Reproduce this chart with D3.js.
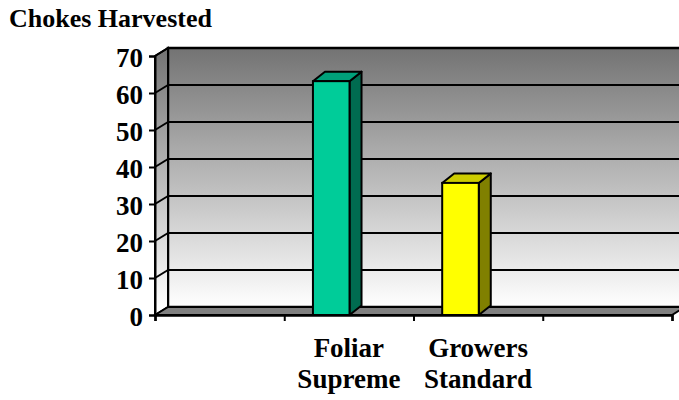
<!DOCTYPE html>
<html>
<head>
<meta charset="utf-8">
<script src="https://cdn.jsdelivr.net/npm/d3@7"></script>
<style>
  body { margin: 0; background: #fff; }
  svg { display: block; font-family: "Liberation Serif", "Times New Roman", serif; font-weight: bold; }
</style>
</head>
<body>
<div id="grafico"></div>
<script>
// Datos del grafico
var categorias = ["Foliar Supreme", "Growers Standard"];
var valores = [63.2, 35.7];
var ticksY = [0, 10, 20, 30, 40, 50, 60, 70];
var titulo = "Chokes Harvested";

var width = 679;
var height = 400;

// Profundidad 3D de paredes y barras
var pdx = 13, pdy = 8;
var bdx = 12, bdy = 9.5;

var svg = d3.select("#grafico")
    .append("svg")
    .attr("width", width)
    .attr("height", height);

// Escalas: eje frontal
var y = d3.scaleLinear().domain([0, 70]).range([315, 56]);
// cuatro huecos, las barras van en el segundo y tercero
var slots = ["", categorias[0], categorias[1], " "];
var x = d3.scaleBand().domain(slots).range([155, 672]).padding(0);

var x0 = x.range()[0], x1 = x.range()[1];
var y0 = y(0), yTop = y(70);

// Degradado de las paredes
var defs = svg.append("defs");
var grad = defs.append("linearGradient")
    .attr("id", "pared")
    .attr("gradientUnits", "userSpaceOnUse")
    .attr("x1", 0).attr("y1", yTop - pdy)
    .attr("x2", 0).attr("y2", y0 - pdy);
grad.append("stop").attr("offset", "0%").attr("stop-color", "#737373");
grad.append("stop").attr("offset", "100%").attr("stop-color", "#ffffff");

// Pared del fondo
svg.append("rect")
    .attr("x", x0 + pdx)
    .attr("y", yTop - pdy)
    .attr("width", x1 - x0 + 20)
    .attr("height", y0 - yTop)
    .attr("fill", "url(#pared)")
    .attr("stroke", "#000")
    .attr("stroke-width", 2.5);

// Pared lateral
svg.append("polygon")
    .attr("points", [
        [x0, y0], [x0, yTop], [x0 + pdx, yTop - pdy], [x0 + pdx, y0 - pdy]
    ].join(" "))
    .attr("fill", "url(#pared)")
    .attr("stroke", "#000")
    .attr("stroke-width", 2);

// Lineas de cuadricula (fondo + lateral)
var grid = svg.append("g");
ticksY.filter(function(t) { return t > 0; }).forEach(function(t) {
    grid.append("line")
        .attr("x1", x0 + pdx).attr("x2", x1 + pdx + 20)
        .attr("y1", y(t) - pdy).attr("y2", y(t) - pdy)
        .attr("stroke", "#000").attr("stroke-width", 2);
    grid.append("line")
        .attr("x1", x0).attr("x2", x0 + pdx)
        .attr("y1", y(t)).attr("y2", y(t) - pdy)
        .attr("stroke", "#000").attr("stroke-width", 2);
});

// Suelo
svg.append("polygon")
    .attr("points", [
        [x0, y0], [x0 + pdx, y0 - pdy], [x1 + pdx, y0 - pdy], [x1, y0]
    ].join(" "))
    .attr("fill", "#808080")
    .attr("stroke", "#000")
    .attr("stroke-width", 2);

// Barras
var colores = [
    { frente: "#00cc99", arriba: "#00a07a", lado: "#006b50" },
    { frente: "#ffff00", arriba: "#cccc00", lado: "#808000" }
];
var bw = x.bandwidth();
var barras = svg.selectAll("g.barra")
    .data(categorias.map(function(c, i) { return { cat: c, val: valores[i], col: colores[i] }; }))
    .enter()
    .append("g")
    .attr("class", "barra");

barras.each(function(d) {
    var g = d3.select(this);
    var bx = x(d.cat) + bw * 0.222;
    var w = bw * 0.283;
    var top = y(d.val);
    // lado
    g.append("polygon")
        .attr("points", [[bx + w, y0], [bx + w, top], [bx + w + bdx, top - bdy], [bx + w + bdx, y0 - bdy]].join(" "))
        .attr("fill", d.col.lado).attr("stroke", "#000").attr("stroke-width", 2).attr("stroke-linejoin", "round");
    // arriba
    g.append("polygon")
        .attr("points", [[bx, top], [bx + bdx, top - bdy], [bx + w + bdx, top - bdy], [bx + w, top]].join(" "))
        .attr("fill", d.col.arriba).attr("stroke", "#000").attr("stroke-width", 2).attr("stroke-linejoin", "round");
    // frente
    g.append("rect")
        .attr("x", bx).attr("y", top)
        .attr("width", w).attr("height", y0 - top)
        .attr("fill", d.col.frente).attr("stroke", "#000").attr("stroke-width", 2);
});

// Eje Y
var ejeY = svg.append("g")
    .attr("transform", "translate(" + x0 + ",0)")
    .call(d3.axisLeft(y).tickValues(ticksY).tickSize(6).tickPadding(6));
ejeY.select(".domain").attr("stroke-width", 2);
ejeY.selectAll(".tick line").attr("stroke-width", 2);
ejeY.selectAll(".tick text")
    .attr("font-size", 27)
    .attr("font-family", "Liberation Serif, Times New Roman, serif")
    .attr("font-weight", "bold")
    .attr("fill", "#000")
    .attr("dy", "0.4em");

// Eje X: marcas en los limites de cada hueco
var xLimites = d3.scaleLinear().domain([0, slots.length]).range(x.range());
var ejeX = svg.append("g")
    .attr("transform", "translate(0," + y0 + ")")
    .call(d3.axisBottom(xLimites).ticks(slots.length).tickSize(6).tickFormat(""));
ejeX.select(".domain").attr("stroke-width", 2.5);
ejeX.selectAll(".tick line").attr("stroke-width", 2);

// Etiquetas de categorias en dos lineas
categorias.forEach(function(c) {
    var partes = c.split(" ");
    var t = svg.append("text")
        .attr("x", x(c) + bw / 2)
        .attr("y", 357)
        .attr("text-anchor", "middle")
        .attr("font-size", 27);
    partes.forEach(function(p, i) {
        t.append("tspan")
            .attr("x", x(c) + bw / 2)
            .attr("dy", i === 0 ? 0 : 31)
            .text(p);
    });
});

// Titulo
svg.append("text")
    .attr("x", 9)
    .attr("y", 27)
    .attr("font-size", 26)
    .text(titulo);
</script>
</body>
</html>
